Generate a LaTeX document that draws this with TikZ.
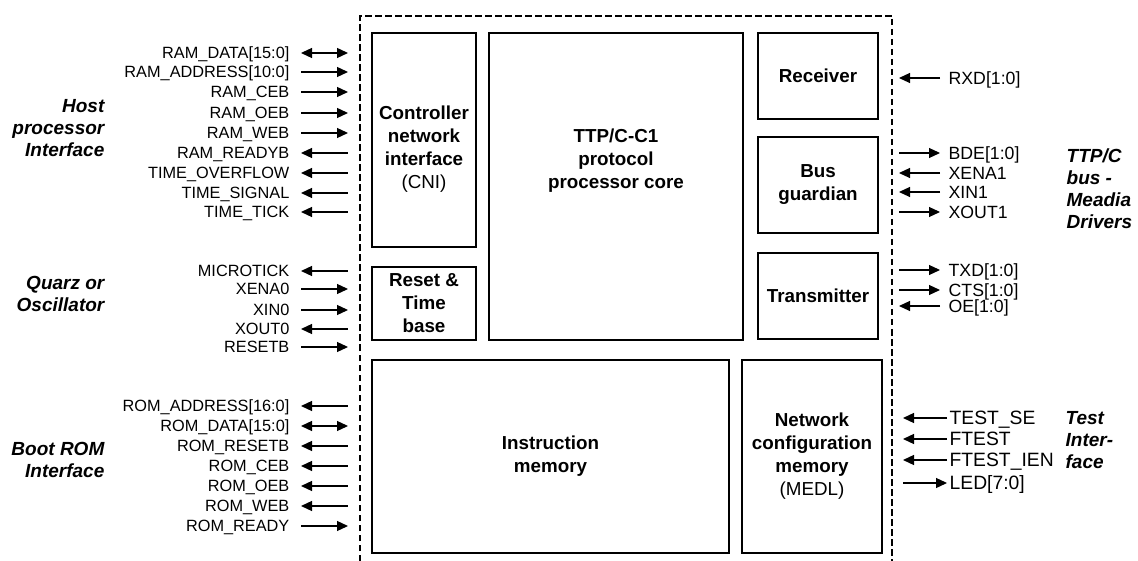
\documentclass[tikz,border=0pt]{standalone}
\usepackage{fontspec}
\setmainfont{Liberation Sans}
\usepackage{tikz}
\usetikzlibrary{arrows.meta}
\tikzset{blk/.style={rectangle,draw,line width=1.5pt,inner sep=0pt,align=center,font=\fontsize{18.8}{23}\selectfont\bfseries}}
\tikzset{btxt/.style={align=center,inner sep=0pt,font=\fontsize{18.8}{23}\selectfont\bfseries}}
\tikzset{sigl/.style={anchor=east,inner xsep=11pt,inner ysep=0pt,text height=11.7pt,text depth=0pt,font=\fontsize{16.3}{19}\selectfont}}
\tikzset{sigr/.style={anchor=west,inner xsep=8pt,inner ysep=0pt,text height=12.7pt,text depth=0pt,font=\fontsize{17.7}{20}\selectfont}}
\tikzset{sigt/.style={anchor=west,inner xsep=2pt,inner ysep=0pt,text height=13.8pt,text depth=0pt,font=\fontsize{19.3}{22}\selectfont}}
\tikzset{grp/.style={inner sep=0pt,font=\fontsize{19}{22}\selectfont\bfseries\itshape}}

\begin{document}
\begin{tikzpicture}[>={Triangle[length=11pt,width=10pt]},x=1pt,y=-1pt,line width=1.3pt]
        \useasboundingbox (0,0) rectangle (1138,561);

        % chip outline
        \draw[line width=1.2pt,dash pattern=on 6.5pt off 3.5pt] (360,561) -- (360,16) -- (892,16) -- (892,561);
        \coordinate (inL) at (348,0);
        \coordinate (inR) at (899,0);
        \coordinate (inT) at (903,0);

        % blocks
        \node[blk,minimum width=104pt,minimum height=214pt] (cni) at (424,140) {};
        \node[btxt] (cnitxt) at (424,149) {Controller\\network\\interface\\{\mdseries (CNI)}};
        \node[blk,minimum width=104pt,minimum height=73pt] (rst) at (424,303.5) {Reset \&\\Time\\base};
        \node[blk,minimum width=254pt,minimum height=307pt] (core) at (616,186.5) {};
        \node[btxt] (coretxt) at (616,161) {TTP/C-C1\\protocol\\processor core};
        \node[blk,minimum width=120pt,minimum height=86pt] (rcv) at (818,76) {Receiver};
        \node[blk,minimum width=120pt,minimum height=96pt] (bg) at (818,185) {Bus\\guardian};
        \node[blk,minimum width=120pt,minimum height=86pt] (tx) at (818,296) {Transmitter};
        \node[blk,minimum width=357pt,minimum height=193pt] (imem) at (550.5,456.5) {Instruction\\memory};
        \node[blk,minimum width=140pt,minimum height=193pt] (ncm) at (812,456.5) {Network\\configuration\\memory\\{\mdseries (MEDL)}};

        % host processor interface
        \node[grp,anchor=east,align=right] (host) at (105,128) {Host\\processor\\Interface};
        \node[sigl] (ramdata) at (301,53) {RAM\_DATA[15:0]};
        \node[sigl] (ramaddr) at (301,72) {RAM\_ADDRESS[10:0]};
        \node[sigl] (ramceb) at (301,92) {RAM\_CEB};
        \node[sigl] (ramoeb) at (301,113) {RAM\_OEB};
        \node[sigl] (ramweb) at (301,133) {RAM\_WEB};
        \node[sigl] (ramrdy) at (301,153) {RAM\_READYB};
        \node[sigl] (tovf) at (301,173) {TIME\_OVERFLOW};
        \node[sigl] (tsig) at (301,193) {TIME\_SIGNAL};
        \node[sigl] (ttick) at (301,212) {TIME\_TICK};
        \draw[<->] (ramdata) -- (ramdata -| inL);
        \draw[->] (ramaddr) -- (ramaddr -| inL);
        \draw[->] (ramceb) -- (ramceb -| inL);
        \draw[->] (ramoeb) -- (ramoeb -| inL);
        \draw[->] (ramweb) -- (ramweb -| inL);
        \draw[<-] (ramrdy) -- (ramrdy -| inL);
        \draw[<-] (tovf) -- (tovf -| inL);
        \draw[<-] (tsig) -- (tsig -| inL);
        \draw[<-] (ttick) -- (ttick -| inL);

        % quarz or oscillator
        \node[grp,anchor=east,align=right] (osc) at (105,294) {Quarz or\\Oscillator};
        \node[sigl] (mtick) at (301,271) {MICROTICK};
        \node[sigl] (xena0) at (301,289) {XENA0};
        \node[sigl] (xin0) at (301,310) {XIN0};
        \node[sigl] (xout0) at (301,329) {XOUT0};
        \node[sigl] (resetb) at (301,347) {RESETB};
        \draw[<-] (mtick) -- (mtick -| inL);
        \draw[->] (xena0) -- (xena0 -| inL);
        \draw[->] (xin0) -- (xin0 -| inL);
        \draw[<-] (xout0) -- (xout0 -| inL);
        \draw[->] (resetb) -- (resetb -| inL);

        % boot rom interface
        \node[grp,anchor=east,align=right] (rom) at (105,460) {Boot ROM\\Interface};
        \node[sigl] (romaddr) at (301,406) {ROM\_ADDRESS[16:0]};
        \node[sigl] (romdata) at (301,426) {ROM\_DATA[15:0]};
        \node[sigl] (romrst) at (301,446) {ROM\_RESETB};
        \node[sigl] (romceb) at (301,466) {ROM\_CEB};
        \node[sigl] (romoeb) at (301,486) {ROM\_OEB};
        \node[sigl] (romweb) at (301,506) {ROM\_WEB};
        \node[sigl] (romrdy) at (301,526) {ROM\_READY};
        \draw[<-] (romaddr) -- (romaddr -| inL);
        \draw[<->] (romdata) -- (romdata -| inL);
        \draw[<-] (romrst) -- (romrst -| inL);
        \draw[<-] (romceb) -- (romceb -| inL);
        \draw[<-] (romoeb) -- (romoeb -| inL);
        \draw[<-] (romweb) -- (romweb -| inL);
        \draw[->] (romrdy) -- (romrdy -| inL);

        % bus side
        \node[grp,anchor=west,align=left] (bus) at (1066,189) {TTP/C\\bus -\\Meadia\\Drivers};
        \node[sigr] (rxd) at (940,78) {RXD[1:0]};
        \node[sigr] (bde) at (940,153) {BDE[1:0]};
        \node[sigr] (xena1) at (940,173) {XENA1};
        \node[sigr] (xin1) at (940,192) {XIN1};
        \node[sigr] (xout1) at (940,212) {XOUT1};
        \node[sigr] (txd) at (940,270) {TXD[1:0]};
        \node[sigr] (cts) at (940,290) {CTS[1:0]};
        \node[sigr] (oe) at (940,306) {OE[1:0]};
        \draw[->,line width=1.1pt] (rxd) -- (rxd -| inR);
        \draw[<-,line width=1.1pt] (bde) -- (bde -| inR);
        \draw[->,line width=1.1pt] (xena1) -- (xena1 -| inR);
        \draw[->,line width=1.1pt] (xin1) -- (xin1 -| inR);
        \draw[<-,line width=1.1pt] (xout1) -- (xout1 -| inR);
        \draw[<-,line width=1.1pt] (txd) -- (txd -| inR);
        \draw[<-,line width=1.1pt] (cts) -- (cts -| inR);
        \draw[->,line width=1.1pt] (oe) -- (oe -| inR);

        % test interface
        \node[grp,anchor=west,align=left] (test) at (1065,440) {Test\\Inter-\\face};
        \node[sigt] (testse) at (947,418) {TEST\_SE};
        \node[sigt] (ftest) at (947,439) {FTEST};
        \node[sigt] (ftien) at (947,460) {FTEST\_IEN};
        \node[sigt] (led) at (947,483) {LED[7:0]};
        \draw[->] (testse) -- (testse -| inT);
        \draw[->] (ftest) -- (ftest -| inT);
        \draw[->] (ftien) -- (ftien -| inT);
        \draw[<-] (led) -- (led -| inT);
    \end{tikzpicture}
\end{document}
